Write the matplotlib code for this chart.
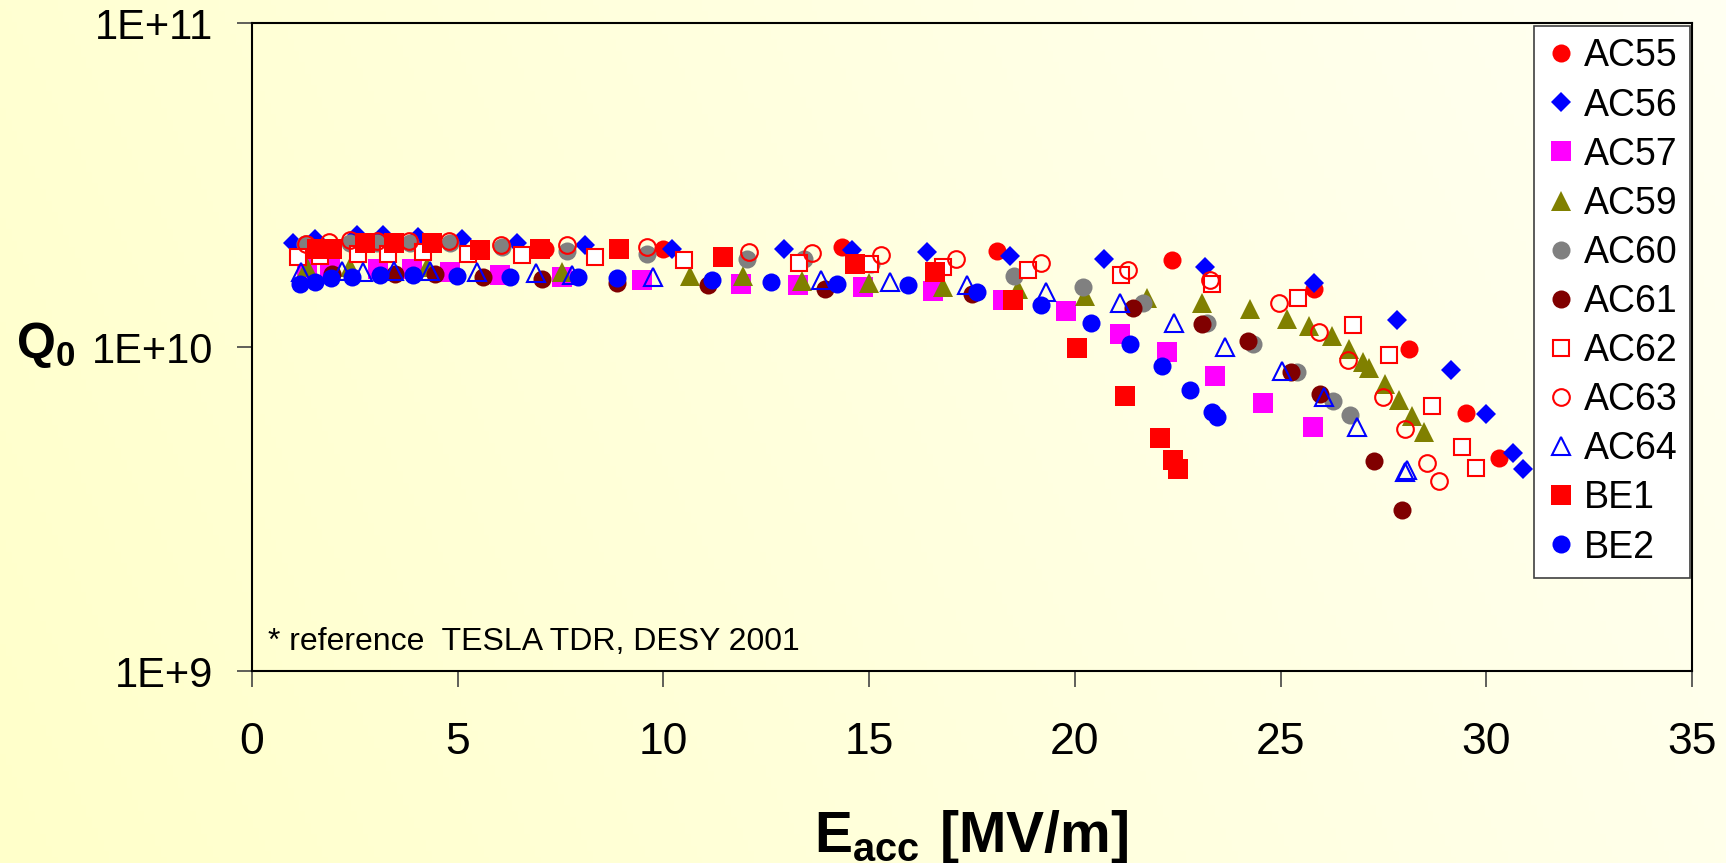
import numpy as np
import matplotlib
matplotlib.use("Agg")
import matplotlib.pyplot as plt

plt.rcParams['font.family'] = ['Liberation Sans', 'DejaVu Sans']
plt.rcParams['mathtext.fontset'] = 'custom'
plt.rcParams['mathtext.rm'] = 'Liberation Sans'
plt.rcParams['mathtext.bf'] = 'Liberation Sans:bold'

# E_acc [MV/m] and Q0 (in units of 1E+10)
ac55_e = [7.12, 10.0, 14.33, 18.10, 22.37, 25.82, 28.11, 29.50, 30.31]
ac55_q = [2.00, 2.00, 2.03, 1.98, 1.85, 1.51, 0.986, 0.625, 0.455]

ac56_e = [1.00, 1.53, 2.55, 3.18, 4.04, 5.10, 6.43, 8.09, 10.20, 12.94, 14.58,
          16.40, 18.42, 20.72, 23.16, 25.81, 27.82, 29.14, 30.00, 30.64, 30.90]
ac56_q = [2.10, 2.15, 2.21, 2.21, 2.18, 2.15, 2.10, 2.07, 2.00, 2.00, 1.99,
          1.96, 1.91, 1.87, 1.77, 1.58, 1.21, 0.851, 0.621, 0.471, 0.420]

ac57_e = [1.33, 1.90, 3.07, 3.88, 4.81, 6.03, 7.53, 9.47, 11.89, 13.26, 14.86,
          16.55, 18.26, 19.78, 21.10, 22.23, 23.41, 24.57, 25.78]
ac57_q = [1.74, 1.76, 1.74, 1.74, 1.70, 1.67, 1.64, 1.61, 1.56, 1.55, 1.53,
          1.49, 1.40, 1.29, 1.10, 0.964, 0.815, 0.671, 0.565]

ac59_e = [1.33, 2.38, 4.25, 7.53, 10.65, 11.94, 13.36, 15.00, 16.79, 18.63, 20.25,
          21.75, 23.08, 24.26, 25.15, 25.68, 26.24, 26.67, 27.01, 27.16, 27.54,
          27.87, 28.20, 28.49]
ac59_q = [1.76, 1.76, 1.76, 1.71, 1.66, 1.66, 1.60, 1.58, 1.53, 1.51, 1.44,
          1.42, 1.37, 1.31, 1.22, 1.16, 1.08, 0.986, 0.897, 0.859, 0.769,
          0.687, 0.614, 0.546]

ac60_e = [1.29, 2.38, 3.03, 3.84, 4.81, 6.07, 7.65, 9.59, 12.02, 13.42, 15.05,
          18.53, 20.21, 21.65, 23.21, 24.34, 25.39, 26.28, 26.69]
ac60_q = [2.08, 2.10, 2.10, 2.10, 2.10, 2.03, 1.98, 1.94, 1.87, 1.87, 1.80,
          1.66, 1.53, 1.37, 1.19, 1.02, 0.836, 0.682, 0.617]

ac61_e = [1.94, 3.48, 4.45, 5.62, 7.04, 8.86, 11.09, 13.93, 17.49, 21.42, 23.10,
          24.22, 25.26, 25.96, 27.26, 27.95]
ac61_q = [1.68, 1.68, 1.68, 1.65, 1.62, 1.58, 1.55, 1.51, 1.46, 1.32, 1.18,
          1.04, 0.839, 0.716, 0.446, 0.313]

ac62_e = [1.13, 1.65, 2.58, 3.31, 4.16, 5.26, 6.56, 8.34, 10.50, 13.30, 15.02,
          16.80, 18.87, 21.11, 23.33, 25.43, 26.77, 27.64, 28.68, 29.42, 29.75]
ac62_q = [1.89, 1.91, 1.94, 1.94, 1.96, 1.94, 1.92, 1.90, 1.85, 1.82, 1.80,
          1.76, 1.73, 1.67, 1.57, 1.42, 1.17, 0.946, 0.656, 0.491, 0.423]

ac63_e = [1.31, 1.88, 2.38, 3.03, 3.82, 4.79, 6.05, 7.65, 9.59, 12.09, 13.62,
          15.29, 17.11, 19.18, 21.30, 23.29, 24.96, 25.94, 26.65, 27.48, 28.03,
          28.55, 28.85]
ac63_q = [2.08, 2.11, 2.14, 2.13, 2.13, 2.13, 2.07, 2.06, 2.03, 1.97, 1.95,
          1.92, 1.87, 1.82, 1.73, 1.61, 1.37, 1.11, 0.912, 0.700, 0.558,
          0.438, 0.386]

ac64_e = [1.19, 2.18, 2.71, 3.44, 4.33, 5.46, 6.90, 7.77, 9.74, 13.83, 15.51,
          17.37, 19.30, 21.10, 22.40, 23.65, 25.03, 26.06, 26.85, 28.03, 28.08]
ac64_q = [1.70, 1.72, 1.71, 1.72, 1.72, 1.70, 1.69, 1.67, 1.65, 1.61, 1.59,
          1.55, 1.48, 1.37, 1.19, 0.998, 0.846, 0.700, 0.565, 0.410, 0.418]

be1_e = [1.57, 1.94, 2.75, 3.46, 4.37, 5.54, 7.00, 8.92, 11.44, 14.66, 16.60,
         18.49, 20.04, 21.22, 22.07, 22.38, 22.50]
be1_q = [2.00, 2.00, 2.09, 2.09, 2.10, 1.99, 2.00, 2.00, 1.90, 1.80, 1.71,
         1.40, 0.993, 0.708, 0.523, 0.448, 0.420]

be2_e = [1.17, 1.53, 1.91, 2.42, 3.11, 3.91, 4.98, 6.27, 7.92, 8.86, 11.19,
         12.62, 14.21, 15.94, 17.62, 19.17, 20.39, 21.34, 22.12, 22.80, 23.33, 23.45]
be2_q = [1.56, 1.59, 1.63, 1.65, 1.67, 1.67, 1.66, 1.65, 1.65, 1.63, 1.61,
         1.59, 1.56, 1.55, 1.48, 1.35, 1.19, 1.02, 0.875, 0.736, 0.631, 0.610]

x_ticks = [0, 5, 10, 15, 20, 25, 30, 35]
y_ticks = [1e9, 1e10, 1e11]
y_labels = ["1E+9", "1E+10", "1E+11"]

# (label, E, Q, marker, size, face, edge)
series = [
    ("AC55", ac55_e, ac55_q, "o", 13, "#FF0000", "#FF0000"),
    ("AC56", ac56_e, ac56_q, "D", 10, "#0000FF", "#0000FF"),
    ("AC57", ac57_e, ac57_q, "s", 14, "#FF00FF", "#FF00FF"),
    ("AC59", ac59_e, ac59_q, "^", 14.5, "#808000", "#808000"),
    ("AC60", ac60_e, ac60_q, "o", 13, "#808080", "#808080"),
    ("AC61", ac61_e, ac61_q, "o", 13, "#800000", "#800000"),
    ("AC62", ac62_e, ac62_q, "s", 11.5, "white", "#FF0000"),
    ("AC63", ac63_e, ac63_q, "o", 12, "none", "#FF0000"),
    ("AC64", ac64_e, ac64_q, "^", 13.5, "none", "#0000FF"),
    ("BE1", be1_e, be1_q, "s", 14, "#FF0000", "#FF0000"),
    ("BE2", be2_e, be2_q, "o", 13, "#0000FF", "#0000FF"),
]

W, H = 1726, 863
fig = plt.figure(figsize=(W / 100, H / 100), dpi=100)

# pale yellow gradient background
bg = fig.add_axes([0, 0, 1, 1], zorder=-10)
xx, yy = np.meshgrid(np.linspace(0, 1, 300), np.linspace(0, 1, 150))
t = 0.8 * xx + 0.2 * (1 - yy)
img = np.zeros(xx.shape + (3,))
img[..., 0] = 1.0
img[..., 1] = 1.0
img[..., 2] = (202 + 40 * t) / 255
bg.imshow(img, extent=[0, 1, 0, 1], aspect="auto", origin="upper")
bg.axis("off")

ax = fig.add_axes([252 / W, 1 - 671 / H, (1692 - 252) / W, (671 - 23) / H])
ax.patch.set_alpha(0)

for name, e, q, m, ms, fc, ec in series:
    open_m = fc in ("none", "white")
    ax.plot(e, np.array(q) * 1e10, linestyle="none", marker=m, markersize=ms,
            markerfacecolor=fc, markeredgecolor=ec,
            markeredgewidth=1.5 if open_m else 0, label=name)

ax.set_yscale("log")
ax.set_xlim(0, 35)
ax.set_ylim(1e9, 1e11)
ax.set_xticks(x_ticks)
ax.set_yticks(y_ticks)
ax.set_yticklabels(y_labels)
ax.minorticks_off()
ax.tick_params(axis="y", direction="out", length=11, width=1.2, color="#444444",
               labelsize=30, pad=17)
ax.tick_params(axis="x", direction="out", length=11.5, width=1.2, color="#444444",
               labelsize=32, pad=25)
for s in ax.spines.values():
    s.set_linewidth(1.5)
    s.set_color("black")

ax.text(0.011, 0.0324, "* reference  TESLA TDR, DESY 2001", transform=ax.transAxes,
        fontsize=23, va="baseline", ha="left")

leg = ax.legend(loc="upper left", bbox_to_anchor=(1534 / W, 1 - 26 / H),
                bbox_transform=fig.transFigure, fontsize=27, frameon=True,
                fancybox=False, borderpad=0.33, handlelength=0.8,
                handletextpad=0.2, labelspacing=0.35, borderaxespad=0)
leg.get_frame().set_facecolor("white")
leg.get_frame().set_edgecolor("#404040")
leg.get_frame().set_linewidth(1.2)
leg.get_frame().set_alpha(1)

fig.text(16 / W, 1 - 358 / H, r"$\mathbf{Q}_{\mathbf{0}}$", fontsize=36,
         ha="left", va="baseline")
fig.text(971 / W, 1 - 852 / H, r"$\mathbf{E}_{\mathbf{acc}}\ \mathbf{[MV/m]}$",
         fontsize=41, ha="center", va="baseline")

fig.savefig("out.png", dpi=100)
